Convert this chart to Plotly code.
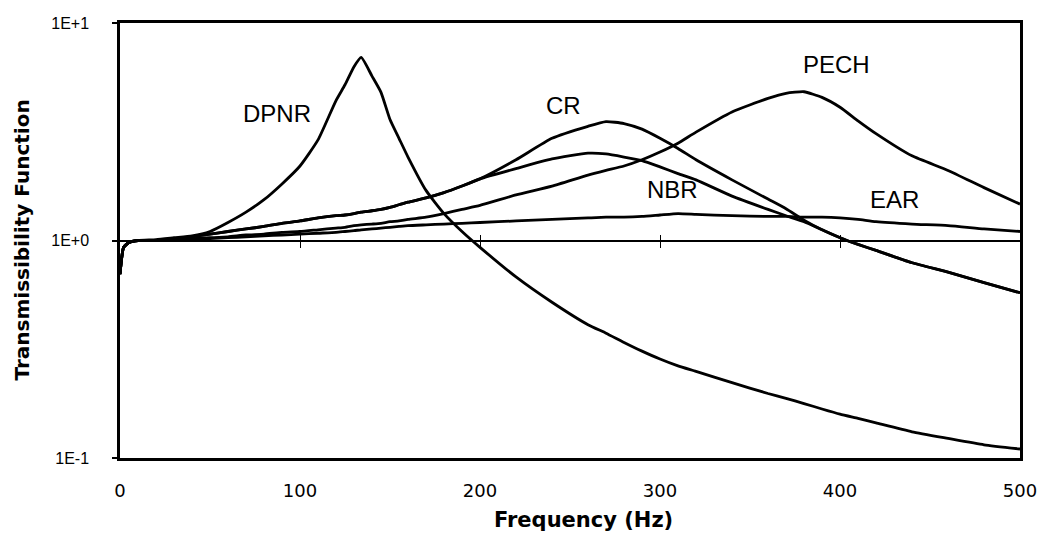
import math
import plotly.graph_objects as go

freq = [0, 2, 5, 10, 20, 30, 40, 50, 60, 70, 80, 90, 100, 110, 120, 125, 130, 134, 140, 145,
        150, 155, 160, 170, 180, 190, 200, 220, 240, 260, 270, 280, 290, 300, 310, 320, 340,
        360, 370, 380, 390, 400, 410, 420, 440, 460, 480, 500]

dpnr = [0.7, 0.93, 0.98, 1.0, 1.01, 1.03, 1.05, 1.1, 1.21, 1.35, 1.54, 1.82, 2.2, 2.9, 4.4, 5.2, 6.3, 6.95, 5.7, 4.8,
        3.6, 2.95, 2.42, 1.7, 1.33, 1.1, 0.93, 0.68, 0.52, 0.41, 0.375, 0.34, 0.31, 0.285, 0.265, 0.25, 0.222,
        0.198, 0.188, 0.178, 0.168, 0.159, 0.152, 0.145, 0.132, 0.123, 0.115, 0.11]

cr = [0.7, 0.93, 0.98, 1.0, 1.0, 1.01, 1.04, 1.07, 1.1, 1.13, 1.16, 1.2, 1.23, 1.27, 1.3, 1.31, 1.33, 1.35, 1.37, 1.39,
      1.42, 1.46, 1.5, 1.57, 1.66, 1.78, 1.92, 2.35, 2.95, 3.35, 3.52, 3.45, 3.25, 2.95, 2.65, 2.35, 1.9,
      1.55, 1.4, 1.24, 1.12, 1.03, 0.96, 0.9, 0.79, 0.715, 0.64, 0.575]

nbr = [0.7, 0.93, 0.98, 1.0, 1.0, 1.01, 1.04, 1.07, 1.1, 1.13, 1.16, 1.2, 1.23, 1.27, 1.3, 1.31, 1.33, 1.35, 1.37, 1.39,
       1.42, 1.46, 1.5, 1.57, 1.66, 1.78, 1.92, 2.14, 2.37, 2.52, 2.5, 2.42, 2.33, 2.18, 2.03, 1.9, 1.6,
       1.39, 1.3, 1.22, 1.12, 1.03, 0.96, 0.9, 0.79, 0.715, 0.64, 0.575]

pech = [0.7, 0.93, 0.98, 1.0, 1.0, 1.01, 1.02, 1.03, 1.04, 1.06, 1.07, 1.09, 1.1, 1.12, 1.14, 1.15, 1.17, 1.18, 1.19, 1.2,
        1.22, 1.23, 1.25, 1.28, 1.33, 1.39, 1.45, 1.62, 1.78, 2.0, 2.1, 2.2, 2.35, 2.55, 2.8, 3.15, 3.9,
        4.5, 4.75, 4.83, 4.55, 4.1, 3.55, 3.1, 2.45, 2.1, 1.75, 1.47]

ear = [0.7, 0.93, 0.98, 1.0, 1.0, 1.0, 1.01, 1.02, 1.03, 1.04, 1.05, 1.06, 1.07, 1.08, 1.09, 1.1, 1.11, 1.12, 1.13, 1.14,
       1.15, 1.16, 1.17, 1.18, 1.19, 1.2, 1.21, 1.23, 1.25, 1.27, 1.28, 1.28, 1.29, 1.31, 1.33, 1.32, 1.3,
       1.29, 1.29, 1.28, 1.28, 1.27, 1.25, 1.22, 1.19, 1.17, 1.13, 1.1]

series_names = ["DPNR", "CR", "NBR", "PECH", "EAR"]
series_values = [dpnr, cr, nbr, pech, ear]
label_freq = [87.4, 246.5, 306.7, 398, 430.5]
label_val = [3.84, 4.17, 1.725, 6.44, 1.547]

x_tick_vals = [0, 100, 200, 300, 400, 500]
y_tick_vals = [0.1, 1, 10]
y_tick_text = ["1E-1", "1E+0", "1E+1"]
cross_ticks = [100, 200, 300, 400]

SANS = "Liberation Sans, Arial, sans-serif"
WIDE = "DejaVu Sans, sans-serif"

fig = go.Figure()
for name, vals in zip(series_names, series_values):
    fig.add_trace(go.Scatter(x=freq, y=vals, mode="lines", name=name,
                             line=dict(color="black", width=2.8, shape="spline", smoothing=0.5),
                             showlegend=False, hoverinfo="skip"))

# invisible traces on the crossing axes so they render
fig.add_trace(go.Scatter(x=[0, 500], y=[1, 1], xaxis="x2", mode="lines",
                         line=dict(color="rgba(0,0,0,0)"), showlegend=False, hoverinfo="skip"))
fig.add_trace(go.Scatter(x=[0, 500], y=[1, 1], xaxis="x3", mode="lines",
                         line=dict(color="rgba(0,0,0,0)"), showlegend=False, hoverinfo="skip"))

for name, lf, lv in zip(series_names, label_freq, label_val):
    fig.add_annotation(x=lf, y=math.log10(lv), text=name, showarrow=False,
                       font=dict(family=SANS, size=24, color="black"),
                       xanchor="center", yanchor="middle")

fig.add_annotation(xref="paper", yref="paper", x=-0.11, y=0.5, text="<b>Transmissibility Function</b>",
                   textangle=-90, showarrow=False, font=dict(family=WIDE, size=20, color="black"),
                   xanchor="center", yanchor="middle")
fig.add_annotation(xref="paper", yref="paper", x=0.515, y=-0.1425, text="<b>Frequency (Hz)</b>",
                   showarrow=False, font=dict(family=WIDE, size=21, color="black"),
                   xanchor="center", yanchor="middle")

fig.update_layout(
    width=1049, height=542,
    margin=dict(l=120, r=22, t=23, b=84),
    paper_bgcolor="white", plot_bgcolor="white",
    font=dict(family=SANS, color="black"),
    xaxis=dict(range=[0, 500], tickvals=x_tick_vals, showgrid=False, zeroline=False,
               showline=True, linecolor="black", linewidth=2.5, mirror=True,
               ticks="", ticklabelstandoff=15, tickfont=dict(family=WIDE, size=18)),
    xaxis2=dict(range=[0, 500], overlaying="x", anchor="free", position=0.5, side="bottom",
                showline=True, linecolor="black", linewidth=1.6, tickvals=cross_ticks,
                ticks="outside", ticklen=7, tickwidth=1.2, tickcolor="black",
                showticklabels=False, showgrid=False, zeroline=False),
    xaxis3=dict(range=[0, 500], overlaying="x", anchor="free", position=0.5, side="bottom",
                showline=False, tickvals=cross_ticks,
                ticks="inside", ticklen=6, tickwidth=1.2, tickcolor="black",
                showticklabels=False, showgrid=False, zeroline=False),
    yaxis=dict(type="log", range=[-1, 1], tickvals=y_tick_vals, ticktext=y_tick_text,
               showgrid=False, zeroline=False, showline=True, linecolor="black", linewidth=2.5,
               mirror=True, ticks="outside", ticklen=5, tickwidth=1.5, tickcolor="black",
               ticklabelstandoff=20, tickfont=dict(family=SANS, size=16)),
)

fig.write_html("out.html", config={"displayModeBar": False},
               post_script="document.body.style.margin='0';document.body.style.overflow='hidden';")
